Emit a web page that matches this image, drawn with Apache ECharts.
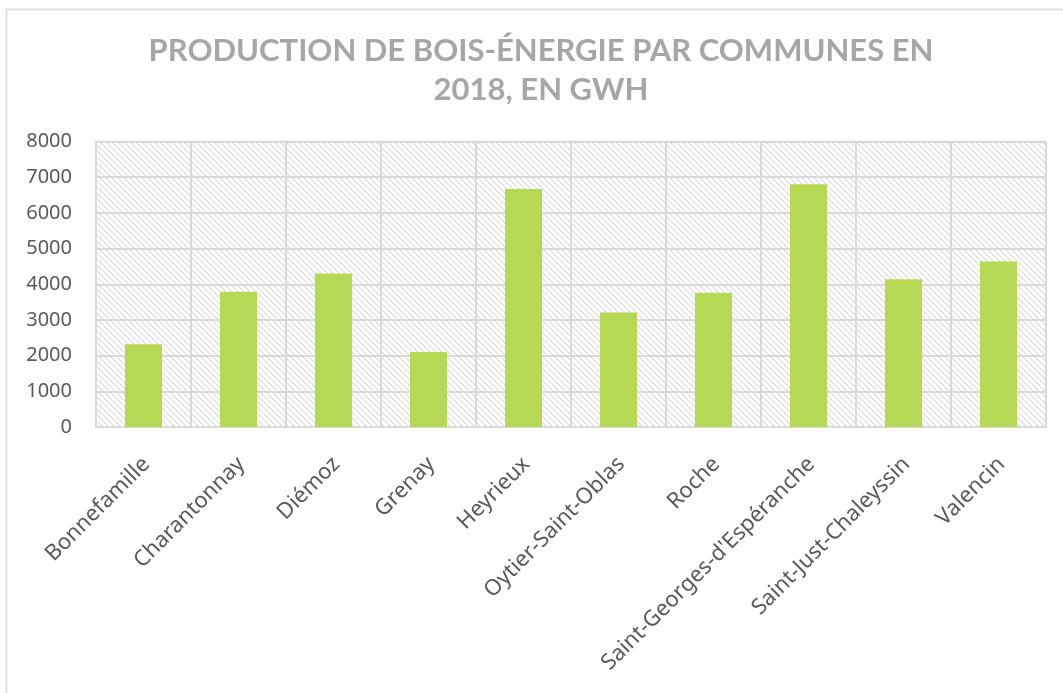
<!DOCTYPE html>
<html>
<head>
    <meta charset="utf-8" />
    <script src="https://cdn.jsdelivr.net/npm/echarts@6/dist/echarts.min.js"></script>
    <title></title>
    <style>
        html, body { margin: 0; padding: 0; background: #fff; }
        #main { width: 1063px; height: 693px; }
    </style>
</head>
<body>
    <div id="main"></div>
    <script type="text/javascript">
        // titre
        var titleText = 'PRODUCTION DE BOIS-ÉNERGIE PAR COMMUNES EN\n2018, EN GWH';
        // communes
        var communes = ['Bonnefamille', 'Charantonnay', 'Diémoz', 'Grenay', 'Heyrieux',
            'Oytier-Saint-Oblas', 'Roche', "Saint-Georges-d'Espéranche", 'Saint-Just-Chaleyssin', 'Valencin'];
        // production en GWh
        var production = [2320, 3790, 4300, 2100, 6670, 3210, 3760, 6800, 4140, 4640];
        var yMin = 0;
        var yMax = 8000;
        var yStep = 1000;

        // motif hachuré du fond
        function makeHatch() {
            var c = document.createElement('canvas');
            c.width = 6;
            c.height = 6;
            var ctx = c.getContext('2d');
            ctx.fillStyle = '#ffffff';
            ctx.fillRect(0, 0, 6, 6);
            ctx.strokeStyle = '#dcdcdc';
            ctx.lineWidth = 1.2;
            ctx.beginPath();
            ctx.moveTo(-1, -1); ctx.lineTo(7, 7);
            ctx.moveTo(-1, 5); ctx.lineTo(1, 7);
            ctx.moveTo(5, -1); ctx.lineTo(7, 1);
            ctx.stroke();
            return c;
        }

        var labelFont = "Noto Sans";

        var myChart = echarts.init(document.getElementById('main'));
        var option = {
            backgroundColor: '#ffffff',
            animation: false,
            graphic: [{
                type: 'rect',
                shape: { x: 6.5, y: 9.5, width: 1100, height: 750 },
                style: { fill: 'none', stroke: '#d9d9d9', lineWidth: 1.5 },
                silent: true
            }, {
                // titre centré un peu à droite comme dans l'original
                type: 'text',
                x: 541,
                y: 31,
                silent: true,
                style: {
                    text: titleText,
                    align: 'center',
                    verticalAlign: 'top',
                    fontFamily: 'Lato',
                    fontWeight: 'bold',
                    fontSize: 31,
                    lineHeight: 39,
                    fill: '#a6a6a6'
                }
            }],
            grid: {
                left: 96,
                right: 17,
                top: 141.5,
                bottom: 266,
                show: true,
                backgroundColor: { image: makeHatch(), repeat: 'repeat' },
                borderColor: '#d9d9d9',
                borderWidth: 1.5
            },
            xAxis: {
                type: 'category',
                data: communes,
                axisLine: { show: true, lineStyle: { color: '#d9d9d9', width: 1.5 } },
                axisTick: { show: false },
                splitLine: { show: true, lineStyle: { color: '#d9d9d9', width: 2 } },
                axisLabel: {
                    interval: 0,
                    rotate: 45,
                    margin: 21,
                    align: 'right',
                    verticalAlign: 'top',
                    padding: [0, 7, 0, 0],
                    fontFamily: labelFont,
                    fontSize: 22,
                    color: '#595959'
                }
            },
            yAxis: {
                type: 'value',
                min: yMin,
                max: yMax,
                interval: yStep,
                axisLine: { show: false },
                axisTick: { show: false },
                splitLine: { show: true, lineStyle: { color: '#d9d9d9', width: 2 } },
                axisLabel: {
                    margin: 24,
                    formatter: function (v) { return String(v); },
                    fontFamily: labelFont,
                    fontSize: 20,
                    color: '#595959'
                }
            },
            series: [{
                name: 'Production',
                type: 'bar',
                data: production,
                barWidth: '39%',
                itemStyle: { color: '#b5d955' }
            }]
        };
        myChart.setOption(option);
    </script>
</body>
</html>
